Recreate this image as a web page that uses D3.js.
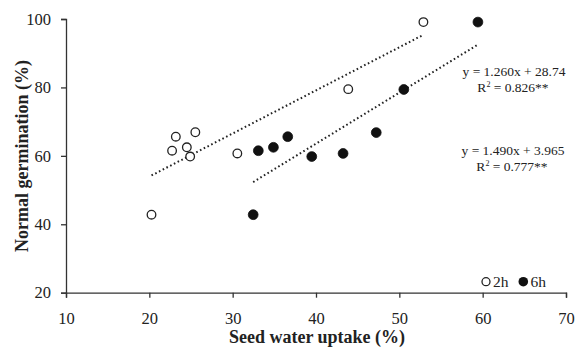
<!DOCTYPE html>
<html><head><meta charset="utf-8">
<script src="https://cdn.jsdelivr.net/npm/d3@7"></script>
<style>
html,body{margin:0;padding:0;background:#fff;}
svg text{font-family:"Liberation Serif","Times New Roman",serif;fill:#222;}
</style></head>
<body><svg id="c" width="578" height="347"></svg>
<script>
// Data
const uptake2h = [20.26, 22.73, 23.18, 24.50, 24.90, 25.52, 30.56, 43.87, 52.89];
const germ2h   = [42.8, 61.5, 65.6, 62.5, 59.8, 66.9, 60.7, 79.5, 99.1];
const uptake6h = [32.46, 33.08, 34.89, 36.61, 39.49, 43.25, 47.23, 50.54, 59.43];
const germ6h   = [42.8, 61.5, 62.5, 65.6, 59.8, 60.7, 66.8, 79.4, 99.1];
const fit2h = {slope: 1.260, intercept: 28.74, r2: "0.826**"};
const fit6h = {slope: 1.490, intercept: 3.965, r2: "0.777**"};
const xTicks = [10, 20, 30, 40, 50, 60, 70];
const yTicks = [20, 40, 60, 80, 100];
const seriesNames = ["2h", "6h"];

const svg = d3.select("#c");
const x = d3.scaleLinear().domain([10, 70]).range([66, 566]);
const y = d3.scaleLinear().domain([20, 100]).range([292.7, 19]);

const axisColor = "#333";
const gx = svg.append("g").attr("transform", `translate(0,${y(20)})`)
  .call(d3.axisBottom(x).tickValues(xTicks).tickSize(5).tickPadding(15));
const gy = svg.append("g").attr("transform", `translate(${x(10)},0)`)
  .call(d3.axisLeft(y).tickValues(yTicks).tickSize(5).tickPadding(10));
[gx, gy].forEach(g => {
  g.selectAll("path,line").attr("stroke", axisColor).attr("stroke-width", 1.3);
  g.selectAll("text").style("font-family", '"Liberation Serif",serif').style("font-size", "16.5px").attr("fill", "#222");
});

// Trend lines
function trend(xs, fit) {
  const x0 = d3.min(xs), x1 = d3.max(xs);
  svg.append("line")
    .attr("x1", x(x0)).attr("y1", y(fit.slope * x0 + fit.intercept))
    .attr("x2", x(x1)).attr("y2", y(fit.slope * x1 + fit.intercept))
    .attr("stroke", "#222").attr("stroke-width", 2)
    .attr("stroke-dasharray", "1.6,2.6").attr("stroke-linecap", "butt");
}
trend(uptake2h, fit2h);
trend(uptake6h, fit6h);

// Points
svg.append("g").selectAll("circle").data(uptake2h).join("circle")
  .attr("cx", d => x(d)).attr("cy", (d, i) => y(germ2h[i])).attr("r", 4.3)
  .attr("fill", "#fff").attr("stroke", "#222").attr("stroke-width", 1.3);
svg.append("g").selectAll("circle").data(uptake6h).join("circle")
  .attr("cx", d => x(d)).attr("cy", (d, i) => y(germ6h[i])).attr("r", 4.9)
  .attr("fill", "#111").attr("stroke", "#111").attr("stroke-width", 0.8);

// Equations
function eq(cx, cy, fit) {
  const t = svg.append("text").attr("text-anchor", "middle").style("font-size", "13.5px");
  t.append("tspan").attr("x", cx).attr("y", cy)
    .text(`y = ${fit.slope.toFixed(3)}x + ${fit.intercept}`);
  const t2 = svg.append("text").attr("text-anchor", "middle").style("font-size", "13.5px")
    .attr("x", cx - 1).attr("y", cy + 16);
  t2.append("tspan").text("R");
  t2.append("tspan").text("2").style("font-size", "8px").attr("dy", -5);
  t2.append("tspan").text(` = ${fit.r2}`).attr("dy", 5);
}
eq(514, 76, fit2h);
eq(513, 155, fit6h);

// Legend
svg.append("circle").attr("cx", 486).attr("cy", 281.7).attr("r", 4)
  .attr("fill", "#fff").attr("stroke", "#222").attr("stroke-width", 1.3);
svg.append("text").attr("x", 493).attr("y", 287).style("font-size", "15.5px").text(seriesNames[0]);
svg.append("circle").attr("cx", 523.3).attr("cy", 281.7).attr("r", 4.8).attr("fill", "#111");
svg.append("text").attr("x", 530.5).attr("y", 287).style("font-size", "15.5px").text(seriesNames[1]);

// Axis titles
svg.append("text").attr("x", 317).attr("y", 342.5).attr("text-anchor", "middle")
  .style("font-size", "18px").style("font-weight", "bold").text("Seed water uptake (%)");
svg.append("text").attr("transform", "translate(27.5,156) rotate(-90)").attr("text-anchor", "middle")
  .style("font-size", "18px").style("font-weight", "bold").text("Normal germination (%)");
</script></body></html>
